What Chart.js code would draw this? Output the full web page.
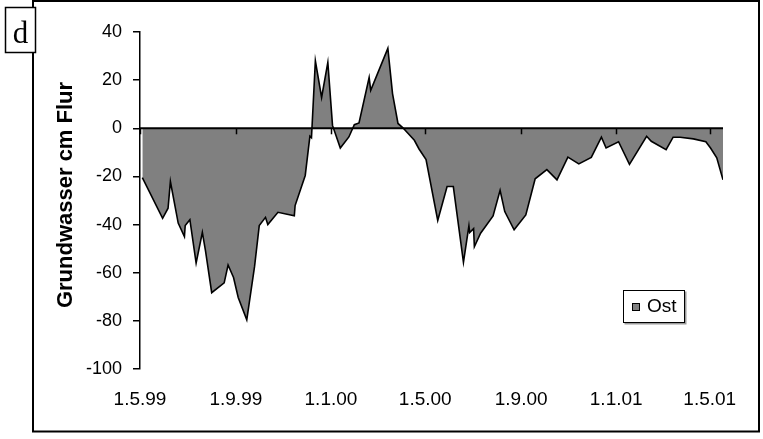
<!DOCTYPE html>
<html>
<head>
<meta charset="utf-8">
<script src="https://cdn.jsdelivr.net/npm/chart.js@4.4.1/dist/chart.umd.min.js"></script>
<style>
html,body{margin:0;padding:0;background:#fff;}
canvas{display:block;}
</style>
</head>
<body>
<canvas id="c" width="763" height="439"></canvas>
<script>
// ---- data ----
const dates = [
 '1999-05-04','1999-05-30','1999-06-06','1999-06-09','1999-06-19','1999-06-27','1999-06-28','1999-07-04',
 '1999-07-12','1999-07-20','1999-07-24','1999-08-01','1999-08-17','1999-08-22','1999-08-29','1999-09-04',
 '1999-09-15','1999-09-25','1999-10-01','1999-10-09','1999-10-12','1999-10-25','1999-11-15','1999-11-16',
 '1999-11-29','1999-12-05','1999-12-07','1999-12-12','1999-12-20','1999-12-28','2000-01-03','2000-01-13',
 '2000-01-24','2000-01-31','2000-02-06','2000-02-19','2000-02-21','2000-03-14','2000-03-20','2000-03-27',
 '2000-04-02','2000-04-17','2000-04-23','2000-05-02','2000-05-17','2000-05-29','2000-06-06','2000-06-19',
 '2000-06-26','2000-06-27','2000-07-02','2000-07-03','2000-07-11','2000-07-27','2000-08-05','2000-08-11',
 '2000-08-23','2000-09-07','2000-09-19','2000-10-04','2000-10-17','2000-10-31','2000-11-14','2000-11-30',
 '2000-12-13','2000-12-19','2001-01-04','2001-01-18','2001-02-09','2001-02-15','2001-03-06','2001-03-15',
 '2001-03-24','2001-04-10','2001-04-26','2001-05-02','2001-05-10','2001-05-18'
];
const ostValues = [
 -20.5,-37.4,-33.2,-22.1,-39.4,-45.0,-40.4,-38.0,
 -56.0,-43.2,-50.8,-68.3,-64.2,-56.8,-62.0,-70.3,
 -79.6,-57.4,-40.4,-37.0,-40.0,-34.9,-36.3,-32.1,
 -19.6,-3.3,-3.9,28.0,12.8,27.4,1.2,-8.2,
 -3.6,1.5,2.2,21.1,15.8,33.2,14.4,2.0,
 0.3,-5.0,-8.6,-13.0,-38.3,-24.2,-24.2,-55.7,
 -40.5,-43.3,-41.7,-49.2,-43.6,-36.4,-25.8,-34.6,
 -42.2,-36.0,-21.0,-17.2,-21.4,-12.0,-14.8,-12.1,
 -3.7,-8.2,-5.6,-15.0,-3.3,-5.4,-8.9,-3.7,
 -3.7,-4.4,-5.6,-8.2,-12.3,-21.4
];
const seriesName = 'Ost';
const xTickLabels = ['1.5.99','1.9.99','1.1.00','1.5.00','1.9.00','1.1.01','1.5.01'];
const yTitle = 'Grundwasser cm Flur';
const panelLetter = 'd';
const xStart = '1999-05-01';
const xEnd = '2001-05-18';

// ---- helpers ----
function dayOf(y, m, d) { return (Date.UTC(y, m - 1, d) - Date.UTC(1999, 4, 1)) / 86400000; }
function isoDay(s) { const [y, m, d] = s.split('-').map(Number); return dayOf(y, m, d); }
function labelDay(s) { const [d, m, yy] = s.split('.').map(Number); return dayOf(yy > 50 ? 1900 + yy : 2000 + yy, m, d); }
const tickDays = xTickLabels.map(labelDay);
const points = dates.map((d, i) => ({ x: isoDay(d), y: ostValues[i] }));

const FONT = 'Liberation Sans, Arial, sans-serif';

const decor = {
  id: 'decor',
  beforeDraw(chart) {
    const ctx = chart.ctx;
    ctx.save();
    ctx.fillStyle = '#fff';
    ctx.fillRect(0, 0, chart.width, chart.height);
    ctx.restore();
  },
  afterDatasetsDraw(chart) {
    const { ctx, chartArea, scales } = chart;
    const y0 = scales.y.getPixelForValue(0);
    ctx.save();
    ctx.strokeStyle = '#000';
    ctx.lineWidth = 2;
    ctx.beginPath();
    ctx.moveTo(chartArea.left, y0);
    ctx.lineTo(chartArea.right, y0);
    ctx.stroke();
    ctx.lineWidth = 1.5;
    tickDays.forEach(v => {
      const px = Math.round(scales.x.getPixelForValue(v)) + 0.5;
      ctx.beginPath();
      ctx.moveTo(px, y0);
      ctx.lineTo(px, y0 + 6);
      ctx.stroke();
    });
    ctx.restore();
  },
  afterDraw(chart) {
    const ctx = chart.ctx;
    ctx.save();
    // outer frame
    ctx.strokeStyle = '#000';
    ctx.lineWidth = 2;
    ctx.strokeRect(33, 1, 726, 430.5);
    // panel letter box
    ctx.fillStyle = '#fff';
    ctx.fillRect(5, 7, 31, 46);
    ctx.lineWidth = 1.5;
    ctx.strokeRect(5.5, 7.5, 30, 45);
    ctx.fillStyle = '#000';
    ctx.font = '31px "Liberation Serif", "Times New Roman", serif';
    ctx.textAlign = 'center';
    ctx.textBaseline = 'alphabetic';
    ctx.fillText(panelLetter, 20.5, 43);
    // legend
    const lx = 623.5, ly = 290.5, lw = 61, lh = 32;
    ctx.fillStyle = '#9a9a9a';
    ctx.fillRect(lx + 1, ly + 1, lw + 1, lh + 1);
    ctx.fillStyle = '#fff';
    ctx.fillRect(lx, ly, lw, lh);
    ctx.strokeStyle = '#000';
    ctx.lineWidth = 1;
    ctx.strokeRect(lx, ly, lw, lh);
    const ds = chart.data.datasets[0];
    ctx.fillStyle = ds.backgroundColor;
    ctx.fillRect(632, 303, 8, 8);
    ctx.strokeRect(632.5, 303.5, 7, 7);
    ctx.fillStyle = '#000';
    ctx.font = '19px ' + FONT;
    ctx.textAlign = 'left';
    ctx.textBaseline = 'middle';
    ctx.fillText(ds.label, 647, 307);
    // y axis title
    ctx.save();
    ctx.translate(66, 195);
    ctx.rotate(-Math.PI / 2);
    ctx.font = 'bold 22px ' + FONT;
    ctx.textAlign = 'center';
    ctx.textBaseline = 'middle';
    ctx.fillText(yTitle, 0, 0);
    ctx.restore();
    ctx.restore();
  }
};

new Chart(document.getElementById('c'), {
  type: 'line',
  data: {
    datasets: [{
      label: seriesName,
      data: points,
      fill: 'origin',
      backgroundColor: '#808080',
      borderColor: '#000',
      borderWidth: 1.6,
      pointRadius: 0,
      tension: 0
    }]
  },
  options: {
    responsive: false,
    animation: false,
    devicePixelRatio: 1,
    layout: { padding: { left: 0, top: 32, right: 40, bottom: 0 } },
    plugins: { legend: { display: false }, tooltip: { enabled: false } },
    scales: {
      x: {
        type: 'linear',
        min: isoDay(xStart),
        max: isoDay(xEnd),
        afterBuildTicks: s => { s.ticks = tickDays.map(v => ({ value: v })); },
        afterFit: s => { s.height = 70; },
        grid: { display: false, drawTicks: false },
        border: { display: false },
        ticks: {
          autoSkip: false, maxRotation: 0, minRotation: 0, padding: 19,
          color: '#000', font: { family: FONT, size: 19 },
          callback: (v, i) => xTickLabels[i]
        }
      },
      y: {
        min: -100, max: 40,
        afterFit: s => { s.width = 140; },
        ticks: { stepSize: 20, color: '#000', padding: 11, font: { family: FONT, size: 18 } },
        grid: { drawOnChartArea: false, color: '#000', lineWidth: 1.5, tickLength: 7 },
        border: { color: '#000', width: 1.5 },
        title: { display: false, text: yTitle }
      }
    }
  },
  plugins: [decor]
});
</script>
</body>
</html>
